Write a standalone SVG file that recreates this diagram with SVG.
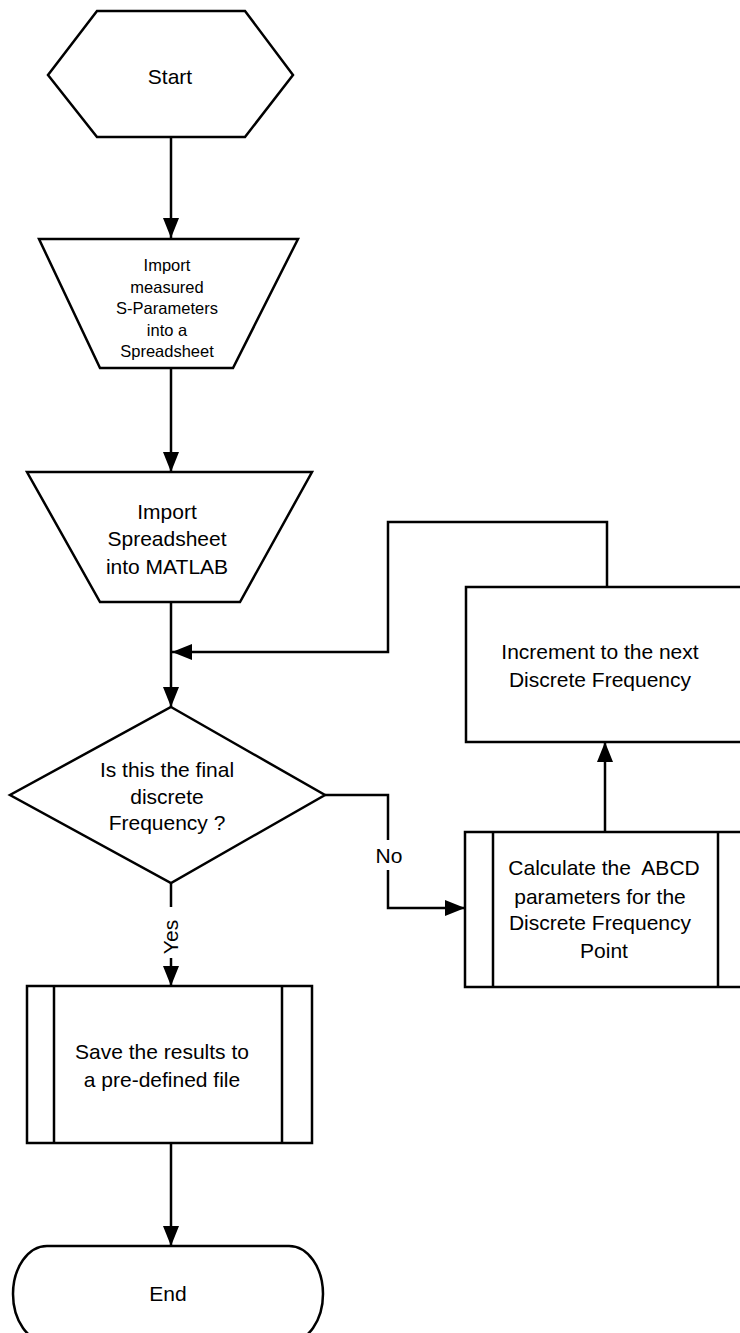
<svg xmlns="http://www.w3.org/2000/svg" width="740" height="1333" viewBox="0 0 740 1333">
<style>
.s{fill:#fff;stroke:#000;stroke-width:2.5;stroke-linejoin:miter}
.c{fill:none;stroke:#000;stroke-width:2.5}
.t{font-family:"Liberation Sans",Arial,sans-serif;font-size:21px;fill:#000;text-anchor:middle}
.sm{font-size:16.5px}
</style>
<defs>
<marker id="ah" viewBox="0 0 20 16" refX="20" refY="8" markerWidth="20" markerHeight="16" markerUnits="userSpaceOnUse" orient="auto">
<path d="M0,0 L20,8 L0,16 Z" fill="#000"/>
</marker>
</defs>
<rect width="740" height="1333" fill="#fff"/>
<g id="connectors">
<path class="c" d="M171,137 V238" marker-end="url(#ah)"/>
<path class="c" d="M171,368 V472" marker-end="url(#ah)"/>
<path class="c" d="M171,602 V707" marker-end="url(#ah)"/>
<path class="c" d="M607,587 V522 H388 V652 H172" marker-end="url(#ah)"/>
<path class="c" d="M325,795 H388 V840"/>
<path class="c" d="M388,870 V908 H465" marker-end="url(#ah)"/>
<path class="c" d="M605,832 V742" marker-end="url(#ah)"/>
<path class="c" d="M171,883 V907"/>
<path class="c" d="M171,958 V986" marker-end="url(#ah)"/>
<path class="c" d="M171,1143 V1246" marker-end="url(#ah)"/>
<text class="t" x="389" y="863">No</text>
<text class="t" transform="translate(178,937) rotate(-90)">Yes</text>
</g>
<g id="start">
<polygon class="s" points="97,11 245,11 293,75 245,137 97,137 48,75"/>
<text class="t" x="170" y="84">Start</text>
</g>
<g id="import-sparams">
<polygon class="s" points="39,239 298,239 233,368 100,368"/>
<text class="t sm" x="167" y="271">Import</text>
<text class="t sm" x="167" y="293">measured</text>
<text class="t sm" x="167" y="314">S-Parameters</text>
<text class="t sm" x="167" y="336">into a</text>
<text class="t sm" x="167" y="357">Spreadsheet</text>
</g>
<g id="import-matlab">
<polygon class="s" points="27,472 312,472 240,602 100,602"/>
<text class="t" x="167" y="519">Import</text>
<text class="t" x="167" y="546">Spreadsheet</text>
<text class="t" x="167" y="574">into MATLAB</text>
</g>
<g id="decision">
<polygon class="s" points="171,707 325,795 171,883 10,795"/>
<text class="t" x="167" y="777">Is this the final</text>
<text class="t" x="167" y="804">discrete</text>
<text class="t" x="167" y="830">Frequency ?</text>
</g>
<g id="increment">
<rect class="s" x="466" y="587" width="290" height="155"/>
<text class="t" x="600" y="659">Increment to the next</text>
<text class="t" x="600" y="687">Discrete Frequency</text>
</g>
<g id="calculate">
<rect class="s" x="465" y="832" width="281" height="155"/>
<line class="c" x1="493" y1="832" x2="493" y2="987"/>
<line class="c" x1="718" y1="832" x2="718" y2="987"/>
<text class="t" x="604" y="875" style="white-space:pre">Calculate the  ABCD</text>
<text class="t" x="600" y="904">parameters for the</text>
<text class="t" x="600" y="930">Discrete Frequency</text>
<text class="t" x="604" y="958">Point</text>
</g>
<g id="save">
<rect class="s" x="27" y="986" width="285" height="157"/>
<line class="c" x1="54" y1="986" x2="54" y2="1143"/>
<line class="c" x1="282" y1="986" x2="282" y2="1143"/>
<text class="t" x="162" y="1059">Save the results to</text>
<text class="t" x="162" y="1087">a pre-defined file</text>
</g>
<g id="end">
<rect class="s" x="13" y="1246" width="310" height="96" rx="34" ry="48"/>
<text class="t" x="168" y="1301">End</text>
</g>
</svg>
